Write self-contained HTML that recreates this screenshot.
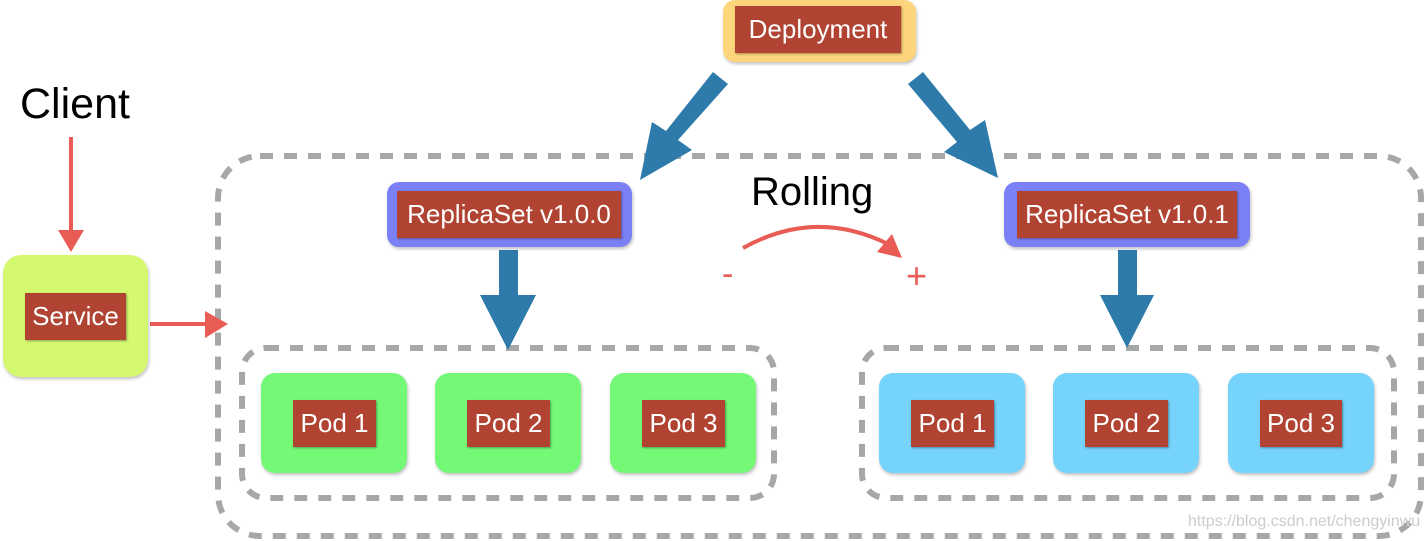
<!DOCTYPE html>
<html><head><meta charset="utf-8"><style>
body{margin:0;width:1427px;height:541px;background:#fff;position:relative;overflow:hidden;font-family:"Liberation Sans","DejaVu Sans",sans-serif}
.b{position:absolute;box-shadow:1px 2px 3px rgba(0,0,0,.25)}
.r{position:absolute;background:#b04331;color:#fff;font-size:26px;display:flex;align-items:center;justify-content:center;box-shadow:1px 1px 2px rgba(0,0,0,.35);white-space:nowrap}
.t{position:absolute;white-space:nowrap}
</style></head><body>
<svg width="1427" height="541" style="position:absolute;left:0;top:0">
<g fill="none" stroke="#a6a8a7" stroke-width="6" stroke-dasharray="13 11">
<rect x="218" y="156" width="1203" height="380" rx="42"/>
<rect x="242" y="348" width="532" height="150" rx="24"/>
<rect x="862" y="348" width="532" height="150" rx="24"/>
</g>
<g fill="#2e7bab">
<polygon points="713,72 728,84 678,140 692,150 640,180 652,122 666,131"/>
<polygon points="908,84 923,72 970,130 985,120 998,178 944,152 957,142"/>
<polygon points="499,250 518,250 518,295 536,295 508,350 480,295 499,295"/>
<polygon points="1118,250 1137,250 1137,295 1154,295 1127,348 1100,295 1118,295"/>
</g>
<g stroke="#e95b55" stroke-width="4" fill="none">
<line x1="71" y1="137" x2="71" y2="232"/>
<line x1="150" y1="324" x2="210" y2="324"/>
<path d="M743,248 Q815,208 888,244"/>
</g>
<g fill="#e95b55">
<polygon points="58,230 84,230 71,252"/>
<polygon points="205,311 205,338 228,324"/>
<polygon points="877,252 892,234 902,258"/>
</g>
</svg>
<div class="t" style="left:20px;top:80px;font-size:43px;color:#000">Client</div>
<div class="t" style="left:751px;top:170px;font-size:40px;color:#000">Rolling</div>
<div class="t" style="left:722px;top:255px;font-size:34px;color:#e95b55">-</div>
<div class="t" style="left:906px;top:255px;font-size:36px;color:#e95b55">+</div>
<div class="b" style="left:723px;top:0;width:193px;height:62px;background:#fdd57a;border-radius:12px"></div>
<div class="r" style="left:735px;top:6px;width:166px;height:47px">Deployment</div>
<div class="b" style="left:387px;top:182px;width:245px;height:65px;background:#7b80f6;border-radius:12px"></div>
<div class="r" style="left:397px;top:191px;width:224px;height:47px">ReplicaSet v1.0.0</div>
<div class="b" style="left:1004px;top:182px;width:246px;height:65px;background:#7b80f6;border-radius:12px"></div>
<div class="r" style="left:1017px;top:191px;width:220px;height:47px">ReplicaSet v1.0.1</div>
<div class="b" style="left:3px;top:255px;width:145px;height:122px;background:#d4f870;border-radius:18px"></div>
<div class="r" style="left:25px;top:293px;width:101px;height:47px">Service</div>
<div class="b" style="left:261px;top:373px;width:146px;height:100px;background:#74f977;border-radius:14px"></div>
<div class="r" style="left:293px;top:400px;width:83px;height:47px">Pod 1</div>
<div class="b" style="left:435px;top:373px;width:146px;height:100px;background:#74f977;border-radius:14px"></div>
<div class="r" style="left:467px;top:400px;width:83px;height:47px">Pod 2</div>
<div class="b" style="left:610px;top:373px;width:146px;height:100px;background:#74f977;border-radius:14px"></div>
<div class="r" style="left:642px;top:400px;width:83px;height:47px">Pod 3</div>
<div class="b" style="left:879px;top:373px;width:146px;height:100px;background:#76d3fb;border-radius:14px"></div>
<div class="r" style="left:911px;top:400px;width:83px;height:47px">Pod 1</div>
<div class="b" style="left:1053px;top:373px;width:146px;height:100px;background:#76d3fb;border-radius:14px"></div>
<div class="r" style="left:1085px;top:400px;width:83px;height:47px">Pod 2</div>
<div class="b" style="left:1228px;top:373px;width:146px;height:100px;background:#76d3fb;border-radius:14px"></div>
<div class="r" style="left:1260px;top:400px;width:82px;height:47px">Pod 3</div>
<div class="t" style="left:1188px;top:513px;font-size:16px;color:#ccc">https://blog.csdn.net/chengyinwu</div>
</body></html>
